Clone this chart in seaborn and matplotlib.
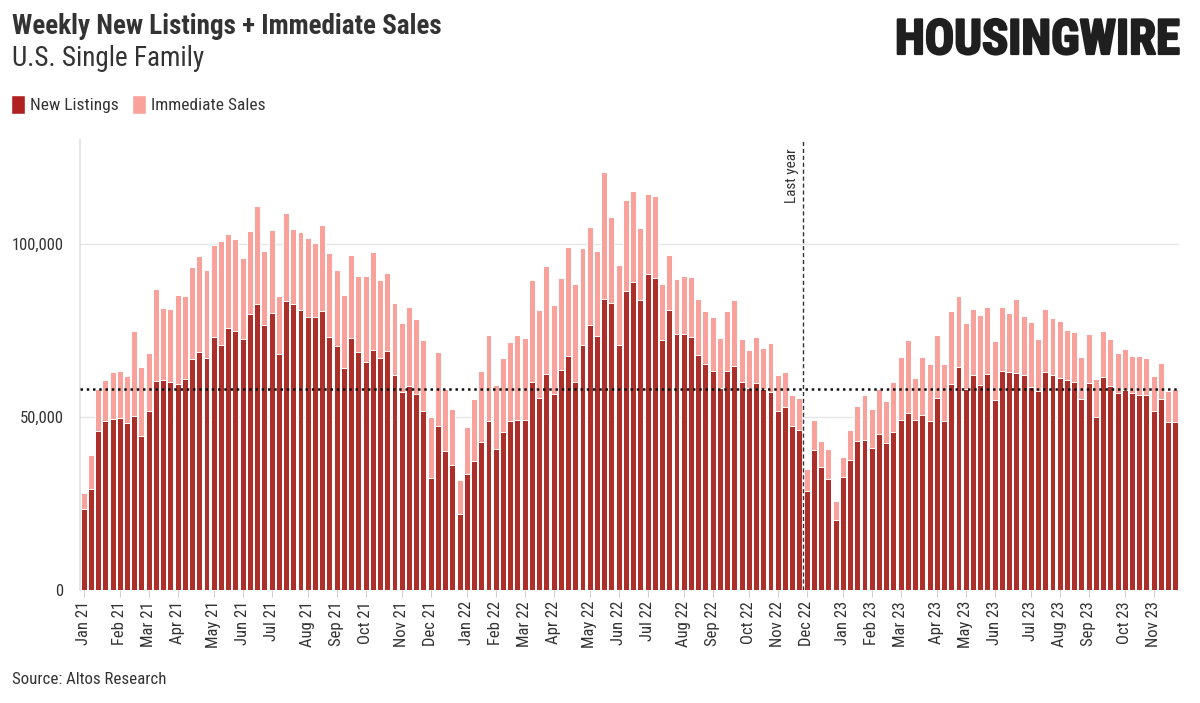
import numpy as np
import pandas as pd
import matplotlib
matplotlib.use("Agg")
import matplotlib.pyplot as plt
import matplotlib.patheffects as pe
from matplotlib import font_manager
from matplotlib.patches import Patch
import seaborn as sns

# weekly values, thousands of homes, weeks starting Fri Jan 1 2021
new_listings = [
    23.4, 29.3, 46.0, 48.9, 49.4, 49.6, 48.2, 50.4, 44.5, 51.8, 60.3, 60.7, 60.0,
    59.6, 61.1, 66.7, 68.9, 66.9, 73.0, 70.9, 75.8, 74.9, 72.5, 79.7, 82.5, 76.5,
    80.1, 68.2, 83.4, 82.5, 80.8, 78.9, 78.9, 80.7, 73.2, 70.5, 64.1, 72.9, 68.7,
    66.0, 69.3, 67.0, 69.0, 62.1, 57.2, 58.9, 56.7, 51.8, 32.5, 47.5, 40.2, 36.2,
    22.0, 33.5, 37.3, 42.8, 48.7, 40.6, 45.6, 48.9, 49.0, 49.0, 60.1, 55.4, 62.5,
    56.6, 63.7, 67.5, 60.2, 70.9, 76.7, 73.4, 84.0, 83.0, 70.9, 86.3, 89.0, 83.8,
    91.3, 90.1, 72.2, 80.9, 73.9, 73.9, 73.1, 67.8, 65.2, 63.2, 58.3, 63.4, 64.7,
    60.1, 58.3, 59.8, 58.1, 57.2, 51.6, 53.0, 47.3, 46.1, 28.6, 40.5, 35.4, 32.1,
    20.1, 32.6, 37.6, 43.1, 43.4, 41.1, 45.1, 42.6, 45.7, 49.1, 51.2, 49.2, 50.6,
    48.9, 55.4, 48.7, 59.6, 64.4, 58.2, 62.0, 59.3, 62.4, 55.0, 63.3, 63.0, 62.8,
    62.1, 58.6, 57.6, 63.1, 62.1, 61.2, 60.6, 60.0, 55.2, 59.8, 50.0, 61.5, 58.8,
    56.9, 57.7, 57.0, 56.4, 56.3, 51.7, 55.2, 48.4, 48.4,
]
listings_plus_sales = [
    28.1, 38.9, 58.1, 60.8, 63.0, 63.4, 61.7, 74.9, 64.4, 68.5, 87.0, 81.6, 81.3,
    85.3, 84.8, 93.2, 96.4, 92.5, 99.6, 100.7, 102.9, 101.5, 95.9, 103.7, 110.8, 97.9,
    104.1, 84.8, 108.8, 104.2, 103.4, 101.6, 100.2, 105.5, 97.3, 92.5, 85.2, 96.8, 90.8,
    90.7, 97.6, 89.5, 91.6, 82.8, 77.0, 81.9, 78.4, 72.1, 50.0, 68.7, 58.2, 52.3,
    31.9, 47.1, 55.3, 63.4, 73.8, 59.3, 66.9, 71.6, 73.8, 72.7, 89.5, 80.8, 93.7,
    82.2, 90.0, 99.1, 88.4, 98.9, 104.9, 97.8, 120.8, 107.8, 94.0, 112.8, 115.2, 104.5,
    114.5, 113.8, 88.4, 96.8, 89.8, 90.8, 90.3, 84.1, 80.5, 78.9, 72.9, 80.7, 83.8,
    72.5, 69.3, 73.2, 69.8, 71.3, 62.0, 63.1, 56.4, 55.6, 35.0, 49.2, 43.1, 40.7,
    25.6, 38.5, 46.3, 53.2, 56.3, 52.3, 58.2, 54.7, 60.2, 67.4, 72.1, 61.3, 67.4,
    65.4, 73.7, 65.2, 80.7, 84.8, 77.1, 81.2, 79.5, 81.8, 71.9, 81.8, 79.9, 84.2,
    79.3, 77.5, 72.4, 81.1, 78.5, 77.7, 75.1, 74.5, 67.4, 74.1, 60.9, 74.8, 72.5,
    68.6, 69.5, 67.6, 67.6, 67.0, 61.7, 65.5, 57.4, 58.1,
]
first_week = "2021-01-01"

dark_red = "#AC2F2A"
light_red = "#F9A29B"
text_col = "#333333"

sns.set_theme(style="white")
installed = {f.name for f in font_manager.fontManager.ttflist}
def pick(*names):
    for n in names:
        if n in installed:
            return n
    return "DejaVu Sans"
main_font = pick("Roboto Condensed", "Roboto", "Liberation Sans Narrow")
logo_font = pick("Roboto Condensed", "Liberation Sans Narrow", "Roboto")
plt.rcParams["font.family"] = [main_font, "DejaVu Sans"]

df = pd.DataFrame({
    "week": pd.date_range(first_week, periods=len(new_listings), freq="7D"),
    "new_listings": np.array(new_listings) * 1000,
    "stack_top": np.array(listings_plus_sales) * 1000,
})
df["idx"] = np.arange(len(df))

fig = plt.figure(figsize=(12, 7.03), dpi=100)
ax = fig.add_axes([80 / 1200, 113 / 703, 1099 / 1200, 450 / 703])

# pink = top of the stack, dark red drawn over it
sns.barplot(data=df, x="idx", y="stack_top", color=light_red, saturation=1,
            width=0.82, edgecolor="white", linewidth=0.7, errorbar=None, ax=ax, zorder=2)
sns.barplot(data=df, x="idx", y="new_listings", color=dark_red, saturation=1,
            width=0.82, edgecolor="white", linewidth=0.7, errorbar=None, ax=ax, zorder=3)

ax.set_xlim(-0.5, len(df) - 0.5)
ax.set_ylim(0, 130000)
ax.set_yticks([0, 50000, 100000])
ax.set_yticklabels(["0", "50,000", "100,000"], fontsize=12, color=text_col)
ax.yaxis.grid(True, color="#e6e6e6", linewidth=1, zorder=0)
ax.set_axisbelow(True)
for s in ["top", "right", "bottom"]:
    ax.spines[s].set_visible(False)
ax.spines["left"].set_color("#e0e0e0")
ax.tick_params(axis="y", length=0, pad=12)

# month ticks on first week of each month
month_start = df["week"].dt.month != df["week"].dt.month.shift(1)
ticks = df.loc[month_start, "idx"]
labels = df.loc[month_start, "week"].dt.strftime("%b %y")
ax.set_xticks(ticks)
ax.set_xticklabels(labels, rotation=90, fontsize=12, color=text_col)
ax.tick_params(axis="x", length=5, width=0.8, color="#d0d0d0", pad=3, bottom=True)
ax.set_xlabel("")
ax.set_ylabel("")

# current level reference + one year back marker
ax.axhline(df["stack_top"].iloc[-1], color="#111111", linestyle=(0, (1, 1.5)),
           linewidth=1.8, zorder=5)
last_year = df["idx"].iloc[-1] - 52 + 0.5
ax.axvline(last_year, color="#333333", linestyle=(0, (3, 2)), linewidth=1, zorder=5)
ax.text(last_year - 0.6, 127500, "Last year", rotation=90, ha="right", va="top",
        fontsize=11, color=text_col)

fig.text(12 / 1200, 1 - 13 / 703, "Weekly New Listings + Immediate Sales", fontsize=19.5,
         fontweight="bold", color=text_col, va="top")
fig.text(12 / 1200, 1 - 45 / 703, "U.S. Single Family", fontsize=19.5, color=text_col, va="top")
fig.text(1180 / 1200, 1 - 18 / 703, "HOUSINGWIRE", fontsize=35, fontweight="black",
         family=[logo_font, "DejaVu Sans"], color="#1f1f1f", ha="right", va="top",
         path_effects=[pe.withStroke(linewidth=1.6, foreground="#1f1f1f")])

handles = [Patch(facecolor="#B02222", label="New Listings"),
           Patch(facecolor=light_red, label="Immediate Sales")]
fig.legend(handles=handles, loc="upper left", bbox_to_anchor=(-5 / 1200, 1 - 79 / 703),
           ncol=2, frameon=False, fontsize=12.5, handlelength=0.8, handleheight=1.3,
           handletextpad=0.3, columnspacing=0.8, labelcolor=text_col)

fig.text(12 / 1200, 1 - 672 / 703, "Source: Altos Research", fontsize=12.2, color=text_col, va="top")

fig.savefig("out.png", dpi=100)
